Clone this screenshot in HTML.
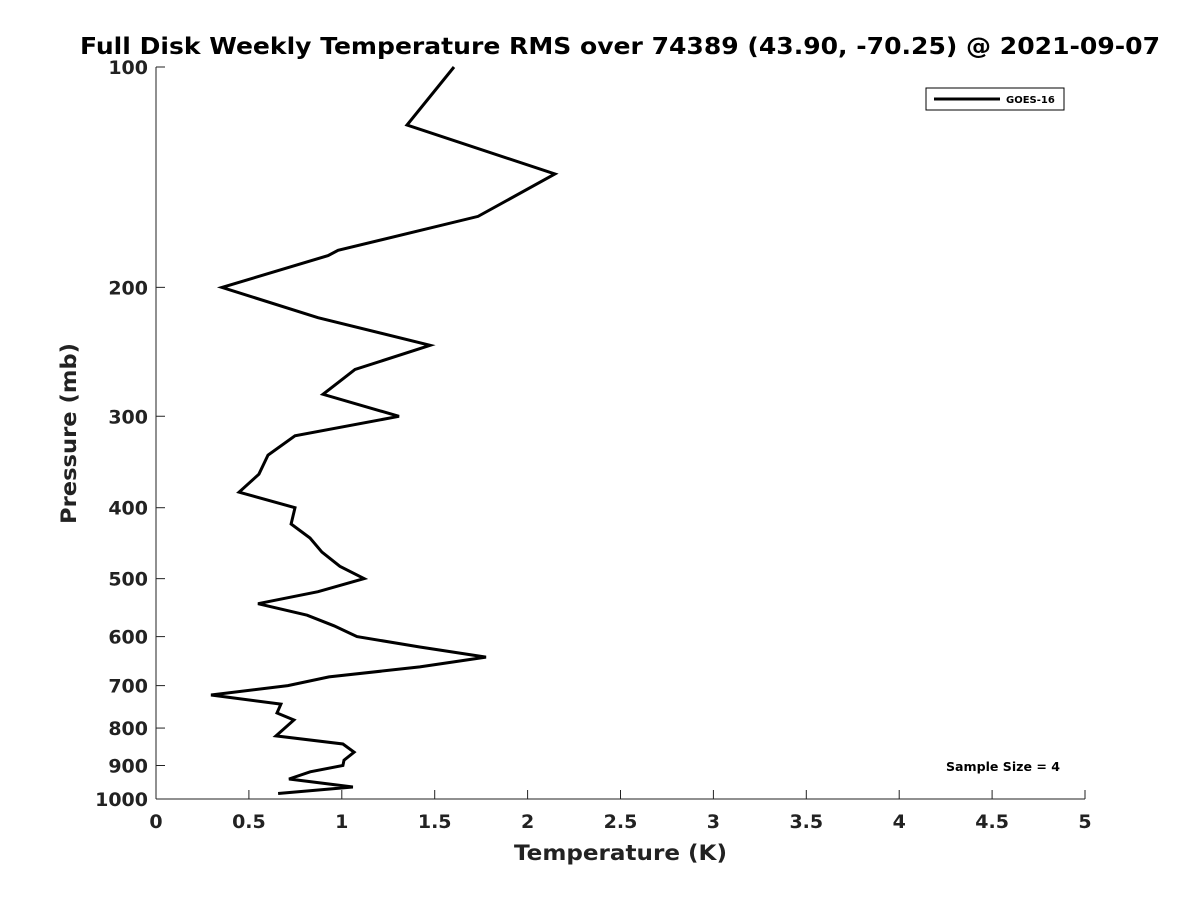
<!DOCTYPE html>
<html><head><meta charset="utf-8"><style>
body{margin:0;background:#fff;}
text{font-family:"DejaVu Sans","Liberation Sans",sans-serif;}
</style></head><body>
<svg id="chart" width="1200" height="900" xmlns="http://www.w3.org/2000/svg">
<rect width="1200" height="900" fill="#fff"/>
<text x="80" y="54" font-size="23" font-weight="bold" fill="#000" textLength="1080" lengthAdjust="spacingAndGlyphs">Full Disk Weekly Temperature RMS over 74389 (43.90, -70.25) @ 2021-09-07</text>
<g id="axes"></g>
<path id="series" fill="none" stroke="#000" stroke-width="3" stroke-linejoin="miter"/>
<g>
<rect x="926" y="88" width="138" height="22" fill="#fff" stroke="#000" stroke-width="1"/>
<line x1="934" y1="99" x2="1000" y2="99" stroke="#000" stroke-width="3"/>
<text x="1006" y="103" font-size="10" font-weight="bold">GOES-16</text>
</g>
<text x="946" y="771" font-size="12" font-weight="bold" textLength="114" lengthAdjust="spacingAndGlyphs">Sample Size = 4</text>
<text x="514" y="860" font-size="21" font-weight="bold" fill="#222" textLength="213" lengthAdjust="spacingAndGlyphs">Temperature (K)</text>
<text transform="translate(76,524) rotate(-90)" font-size="21" font-weight="bold" fill="#222" textLength="181" lengthAdjust="spacingAndGlyphs">Pressure (mb)</text>
</svg>
<script>
const temps=[1.604,1.351,2.147,1.733,0.98,0.926,0.355,0.872,1.475,1.071,0.899,1.308,0.748,0.603,0.554,0.447,0.748,0.727,0.829,0.893,0.99,1.12,0.872,0.549,0.813,0.958,1.082,1.42,1.776,1.42,0.931,0.71,0.296,0.672,0.651,0.742,0.646,1.006,1.066,1.012,1.006,0.83,0.716,1.06,0.657];
const pressures=[100,120,140,160,178,181,200,220,240,259,280,300,319,339,360,381,400,421,440,460,481,500,521,541,561,580,600,620,640,660,681,700,721,742,763,780,820,841,863,885,900,918,939,963,983];
const xTicks=[0,0.5,1,1.5,2,2.5,3,3.5,4,4.5,5];
const xTickLabels=["0","0.5","1","1.5","2","2.5","3","3.5","4","4.5","5"];
const yTicks=[100,200,300,400,500,600,700,800,900,1000];
const L=156,R=1085,T=67,B=799;
const xs=v=>L+(v-0)/(5-0)*(R-L);
const ys=p=>T+(Math.log10(p)-2)*(B-T);
const NS="http://www.w3.org/2000/svg";
const ax=document.getElementById('axes');
function mk(tag,attrs,parent){const e=document.createElementNS(NS,tag);for(const k in attrs)e.setAttribute(k,attrs[k]);parent.appendChild(e);return e;}
const xl=mk('line',{x1:L,y1:B,x2:R,y2:B,stroke:'#222','stroke-width':1},ax);


const yl=mk('line',{x1:L,y1:T,x2:L,y2:B,stroke:'#222','stroke-width':1},ax);


xTicks.forEach((v,i)=>{
  const x=xs(v);
  const t=mk('line',{x1:x,y1:B,x2:x,y2:B-9,stroke:'#222'},ax);
  
  
  const lb=mk('text',{x:x,y:B+29,'text-anchor':'middle','font-size':19,'font-weight':'bold',fill:'#222'},ax);
  lb.textContent=xTickLabels[i];
  
  
});
yTicks.forEach(p=>{
  const y=ys(p);
  const t=mk('line',{x1:L,y1:y,x2:L+9,y2:y,stroke:'#222'},ax);
  
  
  const lb=mk('text',{x:L-8,y:y+7,'text-anchor':'end','font-size':19,'font-weight':'bold',fill:'#222'},ax);
  lb.textContent=String(p);
  
  
});
document.getElementById('series').setAttribute('d',temps.map((v,i)=>(i?'L':'M')+xs(v).toFixed(1)+','+ys(pressures[i]).toFixed(1)).join(' '));
</script>
</body></html>
